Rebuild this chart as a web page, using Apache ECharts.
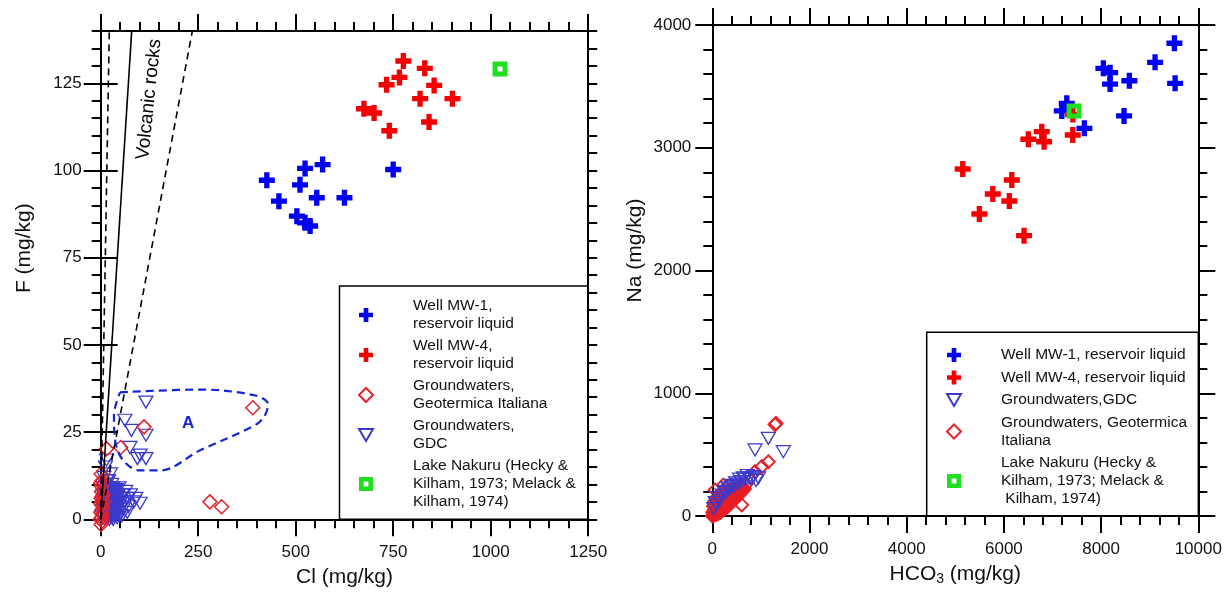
<!DOCTYPE html>
<html lang="en">
<head>
<meta charset="UTF-8">
<title>F vs Cl and Na vs HCO3</title>
<script src="https://cdn.jsdelivr.net/npm/echarts@6/dist/echarts.min.js"></script>
<style>
    html, body { margin: 0; padding: 0; background: #fff; }
    #main { width: 1230px; height: 594px; }
</style>
</head>
<body>
<div id="main"></div>
<script>
// ---------- left plot: Cl (x) vs F (y), mg/kg ----------
var fTicks = [0, 25, 50, 75, 100, 125];

var clF_MW1 = [[426, 97.2], [457, 91.2], [511, 95.9], [524, 100.6], [569, 101.7], [554, 92.2],
    [625, 92.2], [503, 86.9], [524, 85], [537, 84.1], [750, 100.3]];
var clF_MW4 = [[776, 131.4], [831, 129.3], [766, 126.7], [733, 124.6], [855, 124.4], [819, 120.6],
    [902, 120.6], [675, 117.7], [701, 116.5], [740, 111.4], [842, 113.9]];
var clF_GeoIt = [[390, 32], [111, 26.5], [51, 20.6], [15, 20.2], [280, 5], [310, 3.6],
    [0, 10.5], [2, 8], [1, 6], [3, 4], [0, 2], [2, 0.5], [4, -0.5], [1, -1.5], [5, 3], [6, 7],
    [3, 11], [8, 5], [4, 1.5], [1, 13], [0, 4.5], [2, 9.5], [-1, 0], [3, 6.5]];
var clF_GDC = [[116, 33.6], [62, 28.4], [79, 25.5], [116, 24.1], [75, 20.6], [101, 18.4], [116, 17.4],
    [94, 17.4], [15, 17], [101, 4.6], [71, 3.6], [68, 6], [8, 12], [12, 15], [18, 11], [25, 13],
    [3, 1], [5, 4], [6, 7], [7, 2], [8, 9], [9, 5], [10, 0], [11, 3], [12, 7], [13, 1], [14, 5],
    [15, 8], [16, 3], [17, 0.5], [18, 6], [19, 2], [20, 9], [21, 4], [22, 0], [23, 7], [24, 2],
    [25, 5], [26, 8], [27, 1], [28, 4], [29, 6], [30, 2], [31, 9], [32, 0], [33, 5], [34, 3],
    [35, 7], [36, 1], [37, 4], [38, 8], [39, 2], [40, 6], [41, 3], [42, 0.5], [43, 5], [44, 7],
    [45, 2], [46, 4], [47, 9], [48, 1], [49, 6], [50, 3], [52, 5], [54, 1], [56, 7], [58, 3],
    [60, 5], [64, 8], [68, 2], [76, 7], [85, 5], [90, 6],
    [12, 4.5], [14, 2.5], [16, 6.5], [18, 1.5], [20, 5.5], [22, 3.5], [24, 7.5], [26, 2.5],
    [28, 6.5], [30, 4.5], [32, 7.5], [34, 1.5], [36, 5.5], [38, 3.5], [40, 8.5], [42, 4.5],
    [15, 3.5], [19, 7.5], [23, 5], [27, 3], [31, 6], [35, 4.5], [39, 6.5], [21, 1], [25, 8.5],
    [29, 0.5], [33, 8.5], [37, 2.5], [13, 9.5], [17, 4], [11, 6], [9, 2.5], [20, 11], [28, 10],
    [10, 1.5], [12, 5.5], [14, 8], [16, 1], [18, 4.5], [20, 7], [22, 2], [24, 5.5], [26, 1],
    [28, 3], [30, 7], [32, 3.5], [34, 6], [36, 8.5], [10, 4], [13, 7], [17, 2], [21, 6],
    [25, 3.5], [29, 5], [33, 2], [37, 6], [23, 9], [27, 7], [19, 0.5], [31, 1.5], [15, 6]];
var clF_Nakuru = [[1024, 129.1]];

// reference lines "Volcanic rocks" and the dashed field A
var volcLow = [[0, 0], [22, 140]];
var volcMid = [[0, 0], [79.5, 140]];
var volcHigh = [[0, 0], [235, 140]];
var fieldA = [[49.5, 36.4], [255, 37.2], [396, 35.5], [429, 33], [421, 29.8], [396, 27],
    [255, 19.8], [152, 14], [101, 14], [57, 17], [37, 22.7], [34, 29.8], [49.5, 36.4]];

// ---------- right plot: HCO3 (x) vs Na (y), mg/kg ----------
var hcoNa_MW1 = [[9508, 3851], [9111, 3696], [9523, 3525], [8047, 3647], [8185, 3612], [8185, 3519],
    [8582, 3546], [8473, 3259], [7656, 3158], [7294, 3362], [7191, 3300]];
var hcoNa_MW4 = [[5153, 2827], [5495, 2460], [5771, 2623], [6112, 2566], [6162, 2737], [6415, 2284],
    [6503, 3069], [6779, 3131], [6827, 3049], [7417, 3104], [7420, 3270]];
var hcoNa_GDC = [[30, 60], [60, 110], [90, 90], [120, 150], [150, 130], [200, 170], [240, 200],
    [280, 190], [320, 230], [360, 220], [400, 250], [440, 240], [480, 270], [520, 260], [560, 300],
    [600, 280], [640, 310], [680, 300], [720, 330], [760, 310], [800, 300], [850, 320], [900, 290],
    [950, 310], [1153, 633], [879, 538], [1461, 524]];
var hcoNa_GeoIt = [[0, 0], [10, 30], [30, 10], [40, 50], [60, 25], [80, 70], [100, 40], [110, 90],
    [130, 60], [150, 100], [160, 50], [180, 120], [200, 80], [220, 130], [240, 100], [260, 150],
    [280, 110], [300, 160], [320, 120], [340, 180], [360, 140], [380, 190], [400, 150], [420, 200],
    [440, 170], [460, 210], [480, 180], [500, 230], [520, 190], [540, 240], [560, 210], [600, 250],
    [620, 230], [50, 120], [90, 150], [140, 170], [190, 190], [240, 210], [290, 230],
    [20, 5], [70, 10], [120, 20], [170, 30], [220, 50], [270, 60], [320, 80], [370, 100],
    [420, 120], [470, 140], [520, 160], [570, 180], [620, 200], [660, 220], [700, 260],
    [90, 40], [190, 60], [290, 90], [390, 130], [490, 170], [590, 210], [130, 110], [230, 150],
    [330, 190], [430, 220], [530, 250],
    [45, 15], [95, 20], [145, 35], [195, 45], [245, 70], [295, 75], [345, 95], [395, 115],
    [445, 135], [495, 150], [545, 175], [595, 195], [645, 215], [65, 55], [115, 65], [165, 85],
    [215, 100], [265, 120], [315, 140], [365, 165], [415, 175], [465, 195], [515, 215], [565, 235],
    [25, 80], [75, 95], [125, 130], [175, 145], [225, 170], [275, 180], [325, 205], [375, 215],
    [1311, 755], [1290, 745], [1153, 442], [1017, 402], [879, 361], [605, 90], [56, 212], [226, 252]];
var hcoNa_Nakuru = [[7444, 3300]];

// legend texts
var leftLegendText = {
    'MW-1': 'Well MW-1,\nreservoir liquid',
    'MW-4': 'Well MW-4,\nreservoir liquid',
    'GeoIt': 'Groundwaters,\nGeotermica Italiana',
    'GDC': 'Groundwaters,\nGDC',
    'Nakuru': 'Lake Nakuru (Hecky &\nKilham, 1973; Melack &\nKilham, 1974)'
};
var rightLegendText = {
    'MW-1': 'Well MW-1, reservoir liquid',
    'MW-4': 'Well MW-4, reservoir liquid',
    'GDC': 'Groundwaters,GDC',
    'GeoIt': 'Groundwaters, Geotermica\nItaliana',
    'Nakuru': 'Lake Nakuru (Hecky &\nKilham, 1973; Melack &\n Kilham, 1974)'
};

var font = '"Liberation Sans", Arial, sans-serif';
var ink = '#111';
var crossPath = 'path://M5,0H10V5H15V10H10V15H5V10H0V5H5Z';
var triPath = 'path://M0,0H20L10,17Z';
var ringPath = 'path://M0,0H10V10H0Z M3.3,3.3V6.7H6.7V3.3Z';

function plain(v) { return String(v); }

function axis(o) {
    var a = {
        type: 'value',
        splitLine: { show: false },
        axisLine: { show: true, onZero: false, lineStyle: { color: '#000', width: 2 } },
        axisTick: { show: true, inside: false, length: 17, lineStyle: { color: '#000', width: 2 } },
        minorTick: { show: true, splitNumber: 5, length: 9, lineStyle: { color: '#000', width: 2 } },
        axisLabel: { show: false },
        nameTextStyle: { color: ink, fontSize: 21, fontFamily: font }
    };
    for (var k in o) a[k] = o[k];
    return a;
}
function label(margin, extra) {
    var l = { show: true, color: ink, fontSize: 17, fontFamily: font, margin: margin, formatter: plain };
    for (var k in extra) l[k] = extra[k];
    return l;
}

var diamondStyle = { color: 'rgba(0,0,0,0)', borderColor: '#e3222c', borderWidth: 1.5, opacity: 1 };
var diamondStyleR = { color: 'rgba(0,0,0,0)', borderColor: '#e81e26', borderWidth: 1.9, opacity: 1 };
var triStyle = { color: 'rgba(0,0,0,0)', borderColor: '#3a3acd', borderWidth: 1.3, opacity: 1 };
var greenStyle = { color: '#1ee01e', opacity: 1 };
var blueCross = { color: '#0000f5', opacity: 1 };
var redCross = { color: '#f50000', opacity: 1 };
var hidden = { color: 'rgba(0,0,0,0)', opacity: 1 };

var chart = echarts.init(document.getElementById('main'));

var option = {
    animation: false,
    backgroundColor: '#fff',
    grid: [
        { left: 100.7, top: 31, width: 487.5, height: 488.3 },
        { left: 712.3, top: 25, width: 486, height: 491 }
    ],
    xAxis: [
        axis({ gridIndex: 0, position: 'bottom', min: 0, max: 1250, interval: 250,
            axisLabel: label(25), name: 'Cl (mg/kg)', nameLocation: 'middle', nameGap: 47 }),
        axis({ gridIndex: 0, position: 'top', min: 0, max: 1250, interval: 250 }),
        axis({ gridIndex: 1, position: 'bottom', min: 0, max: 10000, interval: 2000,
            axisLabel: label(25), name: '{a|HCO}{s|3}{a| (mg/kg)}', nameLocation: 'middle', nameGap: 47,
            nameTextStyle: { rich: {
                a: { fontSize: 21, fontFamily: font, color: ink },
                s: { fontSize: 14, fontFamily: font, color: ink, padding: [9, 0, 0, 0] }
            } } }),
        axis({ gridIndex: 1, position: 'top', min: 0, max: 10000, interval: 2000 })
    ],
    yAxis: [
        // left plot: minor ticks every 5, major every 25
        axis({ gridIndex: 0, position: 'left', min: 0, max: 140, interval: 5,
            axisTick: { show: true, length: 9, lineStyle: { color: '#000', width: 2 } }, minorTick: { show: false } }),
        axis({ gridIndex: 0, position: 'left', min: 0, max: 140, interval: 25, axisLine: { show: false },
            axisTick: { show: true, length: 17, customValues: fTicks, lineStyle: { color: '#000', width: 2 } },
            minorTick: { show: false },
            axisLabel: label(19, { customValues: fTicks }),
            name: 'F (mg/kg)', nameLocation: 'middle', nameGap: 66,
            nameTextStyle: { color: ink, fontSize: 21, fontFamily: font, padding: [0, 0, 0, 54] } }),
        axis({ gridIndex: 0, position: 'right', min: 0, max: 140, interval: 5,
            axisTick: { show: true, length: 9, lineStyle: { color: '#000', width: 2 } }, minorTick: { show: false } }),
        axis({ gridIndex: 0, position: 'right', min: 0, max: 140, interval: 25, axisLine: { show: false },
            axisTick: { show: true, length: 17, customValues: fTicks, lineStyle: { color: '#000', width: 2 } },
            minorTick: { show: false } }),
        // right plot
        axis({ gridIndex: 1, position: 'left', min: 0, max: 4000, interval: 1000,
            axisLabel: label(21), name: 'Na (mg/kg)', nameLocation: 'middle', nameGap: 67,
            nameTextStyle: { color: ink, fontSize: 21, fontFamily: font, padding: [0, 0, 0, 40] } }),
        axis({ gridIndex: 1, position: 'right', min: 0, max: 4000, interval: 1000 })
    ],
    legend: [
        {
            data: ['MW-1', 'MW-4', 'GeoIt', 'GDC', 'Nakuru'],
            orient: 'vertical', left: 358, top: 297, padding: 0, itemGap: 4,
            itemWidth: 14, itemHeight: 14, selectedMode: false,
            formatter: function (n) { return leftLegendText[n]; },
            textStyle: { color: ink, fontSize: 15.5, lineHeight: 18, fontFamily: font, padding: [0, 0, 0, 35] }
        },
        {
            data: ['MW-1', 'MW-4', 'GDC', 'GeoIt', 'Nakuru'],
            orient: 'vertical', left: 946, top: 346, padding: 0, itemGap: 4.5,
            itemWidth: 14, itemHeight: 14, selectedMode: false,
            formatter: function (n) { return rightLegendText[n]; },
            textStyle: { color: ink, fontSize: 15.5, lineHeight: 18, fontFamily: font, padding: [0, 0, 0, 35] }
        }
    ],
    graphic: [
        { type: 'rect', shape: { x: 339.5, y: 286, width: 248.5, height: 233.3 },
            style: { fill: 'rgba(0,0,0,0)', stroke: '#000', lineWidth: 1.5 } },
        { type: 'rect', shape: { x: 926.7, y: 332.3, width: 271.6, height: 183.7 },
            style: { fill: 'rgba(0,0,0,0)', stroke: '#000', lineWidth: 1.5 } }
    ],
    series: [
        // left plot
        { type: 'line', xAxisIndex: 0, yAxisIndex: 0, data: volcLow, symbol: 'none', silent: true,
            lineStyle: { color: '#000', width: 1.6, type: [7, 5] } },
        { type: 'line', xAxisIndex: 0, yAxisIndex: 0, data: volcMid, symbol: 'none', silent: true,
            lineStyle: { color: '#000', width: 1.6 } },
        { type: 'line', xAxisIndex: 0, yAxisIndex: 0, data: volcHigh, symbol: 'none', silent: true,
            lineStyle: { color: '#000', width: 1.6, type: [7, 5] } },
        { type: 'line', xAxisIndex: 0, yAxisIndex: 0, data: fieldA, symbol: 'none', smooth: 0.35, silent: true,
            lineStyle: { color: '#1424d8', width: 2.2, type: [8, 5] } },
        { name: 'GDC', type: 'scatter', xAxisIndex: 0, yAxisIndex: 0, data: clF_GDC, clip: false,
            symbol: triPath, symbolSize: [14, 12], itemStyle: triStyle },
        { name: 'GeoIt', type: 'scatter', xAxisIndex: 0, yAxisIndex: 0, data: clF_GeoIt, clip: false,
            symbol: 'diamond', symbolSize: 14, itemStyle: diamondStyle },
        { name: 'MW-1', type: 'scatter', xAxisIndex: 0, yAxisIndex: 0, data: clF_MW1, clip: false,
            symbol: crossPath, symbolSize: 16, itemStyle: blueCross },
        { name: 'MW-4', type: 'scatter', xAxisIndex: 0, yAxisIndex: 0, data: clF_MW4, clip: false,
            symbol: crossPath, symbolSize: 16, itemStyle: redCross },
        { name: 'Nakuru', type: 'scatter', xAxisIndex: 0, yAxisIndex: 0, data: clF_Nakuru, clip: false,
            symbol: ringPath, symbolSize: 15, itemStyle: greenStyle },
        { type: 'scatter', xAxisIndex: 0, yAxisIndex: 0, data: [[124, 120.4]], symbolSize: 1, silent: true,
            itemStyle: hidden,
            label: { show: true, position: 'inside', formatter: 'Volcanic rocks', rotate: 84,
                color: '#000', opacity: 1, fontSize: 19, fontFamily: font } },
        { type: 'scatter', xAxisIndex: 0, yAxisIndex: 0, data: [[224, 27.5]], symbolSize: 1, silent: true,
            itemStyle: hidden,
            label: { show: true, position: 'inside', formatter: 'A', color: '#1424d8', opacity: 1,
                fontSize: 17, fontWeight: 'bold', fontFamily: font } },
        // right plot
        { name: 'GeoIt', type: 'scatter', xAxisIndex: 2, yAxisIndex: 4, data: hcoNa_GeoIt, clip: false,
            symbol: 'diamond', symbolSize: 13, itemStyle: diamondStyleR },
        { name: 'GDC', type: 'scatter', xAxisIndex: 2, yAxisIndex: 4, data: hcoNa_GDC, clip: false,
            symbol: triPath, symbolSize: [14, 12], itemStyle: triStyle },
        { name: 'MW-1', type: 'scatter', xAxisIndex: 2, yAxisIndex: 4, data: hcoNa_MW1, clip: false,
            symbol: crossPath, symbolSize: 16, itemStyle: blueCross },
        { name: 'MW-4', type: 'scatter', xAxisIndex: 2, yAxisIndex: 4, data: hcoNa_MW4, clip: false,
            symbol: crossPath, symbolSize: 16, itemStyle: redCross },
        { name: 'Nakuru', type: 'scatter', xAxisIndex: 2, yAxisIndex: 4, data: hcoNa_Nakuru, clip: false,
            symbol: ringPath, symbolSize: 15, itemStyle: greenStyle }
    ]
};

chart.setOption(option);
</script>
</body>
</html>
